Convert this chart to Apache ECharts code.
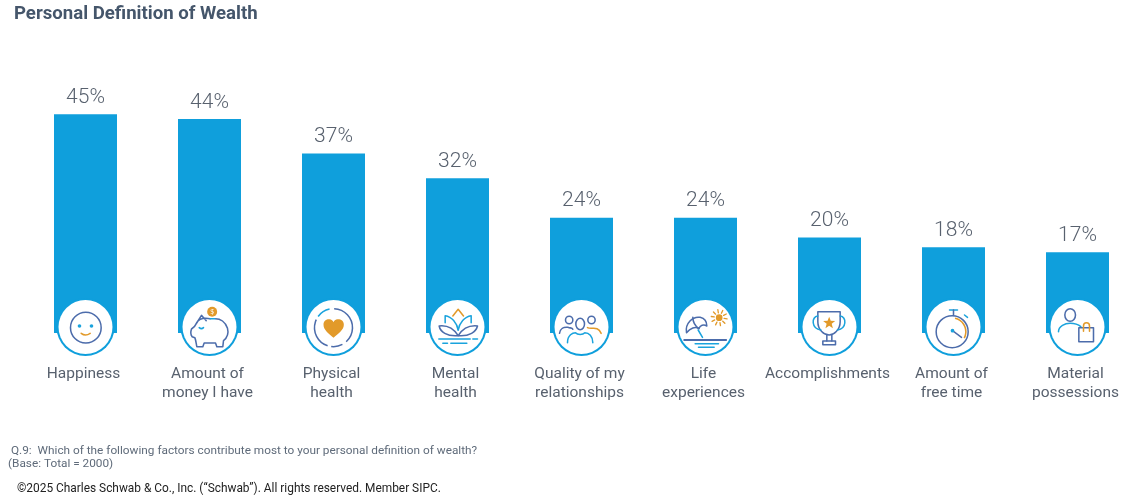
<!DOCTYPE html>
<html>
<head>
<meta charset="utf-8">
<style>html,body{margin:0;padding:0;background:#fff}#chart{width:1144px;height:496px}</style>
<script src="https://cdn.jsdelivr.net/npm/echarts@6/dist/echarts.min.js"></script>
</head>
<body>
<div id="chart"></div>
<script>
const categories = ['Happiness', 'Amount of\nmoney I have', 'Physical\nhealth', 'Mental\nhealth',
  'Quality of my\nrelationships', 'Life\nexperiences', 'Accomplishments', 'Amount of\nfree time', 'Material\npossessions'];
const shares = [45, 44, 37, 32, 24, 24, 20, 18, 17];

const NAVY = '#4c6cab', SKY = '#1aa3dd', AMBER = '#e29a2a', BAR = '#0f9fdc', TEXT = '#58616e';
const STROKE = 4.6;

// Icon primitives; coordinates are in a 3x drawing space, scaled down per icon.
const line = (d, c, w) => ({ type: 'path', shape: { pathData: d }, style: { fill: 'none', stroke: c, lineWidth: w || STROKE, lineCap: 'round', lineJoin: 'round' } });
const solid = (d, c) => ({ type: 'path', shape: { pathData: d }, style: { fill: c } });
const ring = (cx, cy, r, c, w) => ({ type: 'circle', shape: { cx, cy, r }, style: { fill: 'none', stroke: c, lineWidth: w || STROKE } });
const ellipse = (cx, cy, rx, ry, c) => ({ type: 'ellipse', shape: { cx, cy, rx, ry }, style: { fill: 'none', stroke: c, lineWidth: STROKE } });
const disc = (cx, cy, r, c) => ({ type: 'circle', shape: { cx, cy, r }, style: { fill: c } });
const arc = (cx, cy, r, a0, a1, c, w) => ({ type: 'arc', shape: { cx, cy, r, startAngle: a0 * Math.PI / 180, endAngle: a1 * Math.PI / 180, clockwise: true }, style: { fill: 'none', stroke: c, lineWidth: w || STROKE } });

function starPath(cx, cy, R, r) {
  let d = '';
  for (let i = 0; i < 10; i++) {
    const a = -Math.PI / 2 + i * Math.PI / 5, q = i % 2 ? r : R;
    d += (i ? 'L' : 'M') + (cx + q * Math.cos(a)).toFixed(1) + ' ' + (cy + q * Math.sin(a)).toFixed(1);
  }
  return d + 'Z';
}
function sunRays(cx, cy, r0, r1) {
  let d = '';
  for (let i = 0; i < 10; i++) {
    const a = i * Math.PI / 5 + 0.15;
    d += 'M' + (cx + r0 * Math.cos(a)).toFixed(1) + ' ' + (cy + r0 * Math.sin(a)).toFixed(1)
       + 'L' + (cx + r1 * Math.cos(a)).toFixed(1) + ' ' + (cy + r1 * Math.sin(a)).toFixed(1);
  }
  return d;
}

const icons = [
  { cx: 166, parts: [
    ring(167, 143, 46, NAVY),
    disc(148, 138, 5.5, SKY), disc(184, 138, 5.5, SKY),
    line('M153 160Q166 170 180 160', AMBER)
  ] },
  { cx: 538, parts: [
    line('M540 116C515 112 505 118 500 128L514 106C520 112 524 118 528 122', NAVY),
    line('M500 128C497 135 492 142 484 147C481 155 482 165 486 170L494 173C497 180 498 190 500 200L518 200L522 189L556 189L560 200L578 200L580 182C592 172 596 160 592 145C586 125 570 116 556 116', NAVY),
    line('M540 116L554 116', SKY),
    line('M507 143Q514 149 520 143', SKY),
    disc(546, 95, 15, AMBER),
    { type: 'text', style: { text: '$', x: 546, y: 96, fontSize: 21, fontFamily: 'Open Sans', fill: '#fff', align: 'center', verticalAlign: 'middle' } }
  ] },
  { cx: 910, parts: [
    arc(910, 143, 57, -88, 48, NAVY), arc(910, 143, 57, 62, 97, NAVY),
    arc(910, 143, 57, 108, 205, NAVY), arc(910, 143, 57, 216, 258, SKY),
    solid('M910 173C896 160 880 150 880 134C880 122 890 117 898 118C904 119 908 122 910 127C912 122 916 119 922 118C931 117 941 122 941 134C941 150 924 160 910 173Z', AMBER)
  ] },
  { cx: 202, parts: [
    line('M188 108L204 88L220 108', AMBER),
    line('M165 128L165 107C185 110 200 128 204 150', SKY),
    line('M243 128L243 107C223 110 208 128 204 150', SKY),
    line('M204 167C190 145 172 135 147 138C150 155 170 170 204 167', NAVY),
    line('M204 167C218 145 236 135 262 138C258 155 238 170 204 167', NAVY),
    line('M146 177L240 177M248 177L262 177', SKY),
    line('M158 190L172 190M182 190L230 190', SKY)
  ] },
  { cx: 574, parts: [
    ring(537, 120, 11, NAVY), ring(604, 120, 11, NAVY), ellipse(570, 132, 13, 17, NAVY),
    line('M508 160C510 146 520 140 534 142C540 145 546 142 548 148', NAVY),
    line('M532 188C532 165 548 158 556 158C562 165 578 165 584 158C596 158 608 168 608 188', SKY),
    line('M592 143C604 150 622 135 633 160', AMBER)
  ] },
  { cx: 946, parts: [
    line('M889 158C884 130 908 108 930 112C942 115 950 125 950 138C940 132 930 136 926 146C916 138 900 144 889 158Z', NAVY),
    line('M908 112C908 125 915 138 926 146', NAVY),
    line('M924 150L937 172', SKY),
    disc(987, 113, 10, AMBER), line(sunRays(987, 113, 15, 24), AMBER, 4),
    line('M882 180L1008 180', NAVY, 5.5),
    line('M915 191L985 191M925 202L972 202', SKY)
  ] },
  { cx: 238, parts: [
    line('M203 95L270 95L270 125C270 150 250 165 237 165C222 165 203 150 203 125Z', NAVY),
    line('M203 108C183 110 183 146 212 150M270 108C290 110 290 146 262 150', SKY),
    line('M230 165L230 183M245 165L245 183', NAVY),
    line('M218 183L256 183L256 194L218 194Z', NAVY),
    solid(starPath(237, 129, 19, 8), AMBER)
  ] },
  { cx: 610, parts: [
    ring(606, 155, 48, NAVY),
    line('M598 90L622 90', SKY), line('M610 90L610 106', NAVY),
    line('M643 105L652 112', SKY),
    arc(606, 155, 41, -78, 28, AMBER),
    line('M607 152L634 172', NAVY), disc(607, 152, 5.5, SKY)
  ] },
  { cx: 982, parts: [
    ellipse(960, 105, 16, 19, NAVY),
    line('M925 155C925 138 945 130 960 130C975 130 985 134 992 140', SKY),
    line('M986 143L1030 143L1030 185L986 185Z', NAVY),
    line('M1000 154L1000 138C1000 125 1018 125 1018 138L1018 154', AMBER)
  ] }
];

const FOOT = 'Roboto';
const option = {
  animation: false,
  backgroundColor: '#fff',
  title: [
    { text: 'Personal Definition of Wealth', left: 14, top: 5, padding: 0, textStyle: { fontFamily: 'Roboto', fontSize: 18.6, fontWeight: 700, color: '#45566b' } },
    { text: 'Q.9:  Which of the following factors contribute most to your personal definition of wealth?', left: 11, top: 445, padding: 0, textStyle: { fontFamily: FOOT, fontSize: 11.8, fontWeight: 400, color: '#5f6b7a' } },
    { text: '(Base: Total = 2000)', left: 8, top: 458, padding: 0, textStyle: { fontFamily: FOOT, fontSize: 11.8, fontWeight: 400, color: '#5f6b7a' } },
    { text: '©2025 Charles Schwab & Co., Inc. (“Schwab”). All rights reserved. Member SIPC.', left: 17, top: 483, padding: 0, textStyle: { fontFamily: FOOT, fontSize: 11.9, fontWeight: 400, color: '#222' } }
  ],
  grid: { left: 23.5, right: 4.5, top: 89.5, bottom: 160 },
  xAxis: {
    type: 'category',
    data: categories,
    z: 3,
    axisTick: { show: false },
    // A wide white baseline trims the foot of each bar above the badges.
    axisLine: { lineStyle: { color: '#fff', width: 6 } },
    axisLabel: { interval: 0, margin: 29, padding: [0, 4, 0, 0], fontFamily: 'Roboto', fontSize: 15.5, lineHeight: 19, color: TEXT }
  },
  yAxis: { type: 'value', min: 0, max: 50, show: false },
  series: [
    {
      type: 'bar',
      data: shares,
      barWidth: 63,
      z: 2,
      itemStyle: { color: BAR },
      label: { show: true, position: 'top', distance: 6, formatter: '{c}%', fontFamily: 'Roboto', fontWeight: 300, fontSize: 21, color: TEXT }
    },
    {
      type: 'custom',
      z: 5,
      silent: true,
      clip: false,
      encode: { x: 0, y: 1 },
      data: categories.map((c, i) => [i, 0]),
      renderItem(params, api) {
        const i = api.value(0);
        const p = api.coord([i, 0]);
        const cy = p[1] - 9;
        const icon = icons[i];
        return {
          type: 'group',
          children: [
            { type: 'circle', shape: { cx: p[0], cy, r: 29 }, style: { fill: BAR } },
            { type: 'circle', shape: { cx: p[0], cy, r: 27 }, style: { fill: '#fff' } },
            { type: 'group', x: p[0] - icon.cx / 3, y: cy - 141 / 3, scaleX: 1 / 3, scaleY: 1 / 3, children: icon.parts }
          ]
        };
      }
    }
  ]
};
echarts.init(document.getElementById('chart'), null, { renderer: 'canvas' }).setOption(option);
</script>
</body>
</html>
